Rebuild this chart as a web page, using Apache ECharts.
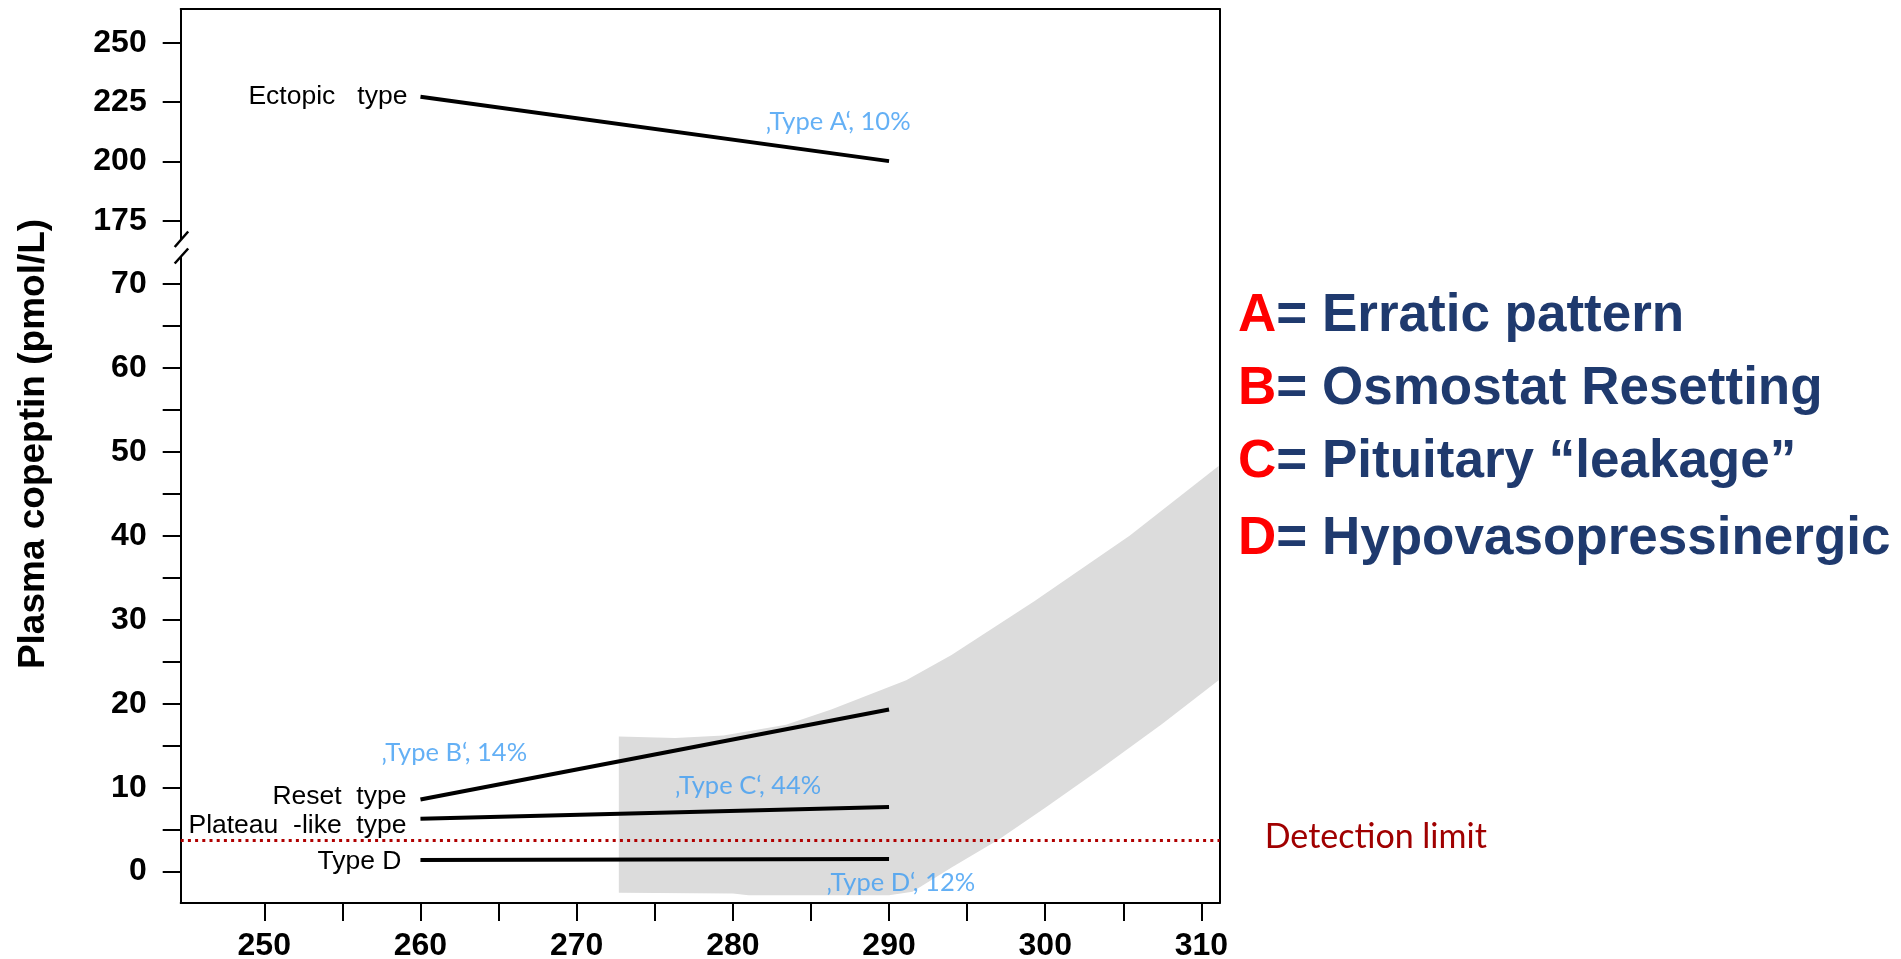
<!DOCTYPE html>
<html><head><meta charset="utf-8">
<script src="https://cdn.jsdelivr.net/npm/echarts@6/dist/echarts.min.js"></script>
<style>html,body{margin:0;padding:0;background:#fff;}#c{width:1901px;height:959px;}</style>
</head><body><div id="c"></div>
<script>
// ---- data ----
const xTickValues = [250,255,260,265,270,275,280,285,290,295,300,305,310];
const xLabelValues = [250,260,270,280,290,300,310];
const yLowTickValues = [0,5,10,15,20,25,30,35,40,45,50,55,60,65,70];
const yLowLabelValues = [0,10,20,30,40,50,60,70];
const yHighTickValues = [175,200,225,250];

const lineNames = ['Ectopic   type','Reset  type','Plateau  -like  type','Type D'];
const ectopicType = [[260,227.2],[290,200.1]];
const resetType = [[260,8.6],[290,19.3]];
const plateauType = [[260,6.3],[290,7.7]];
const typeD = [[260,1.4],[290,1.5]];
const detectionLimit = 3.8;
const detectionLabel = 'Detection limit';
const bandUpper = [[272.7,16.1],[276.3,15.9],[279.4,16.2],[283.4,17.5],[286.3,19.3],[291.1,22.8],[294,25.8],[299.3,32.2],[305.4,40],[311.1,48.3]];
const bandLower = [[272.7,-2.5],[280,-2.6],[281,-2.8],[290,-2.8],[291.5,-2.4],[294,0.5],[297,3.8],[300,7.6],[303.5,12.2],[307.5,17.6],[311.1,22.8]];
const typeLabels = ['\u201AType A\u2018, 10%','\u201AType B\u2018, 14%','\u201AType C\u2018, 44%','\u201AType D\u2018, 12%'];
const typeLabelAnchors = [[282.1,216.7],[257.5,14.2],[276.3,10.2],[286,-1.3]];
const legendLetters = ['A','B','C','D'];
const legendTexts = ['= Erratic pattern','= Osmostat Resetting','= Pituitary \u201Cleakage\u201D','= Hypovasopressinergic'];
const yTitle = 'Plasma copeptin (pmol/L)';

// ---- layout ----
const GL = 180.7, GW = 1039, TOP = 9, BRK = 248, BOT = 903;
const X_MIN = 244.65, X_MAX = 311.17;
const BLUE = '#3d9cf2';
const FONT = '"Liberation Sans", Arial, sans-serif';

const chart = echarts.init(document.getElementById('c'));

function lineSeries(data, name, xi, yi, labelOpt) {
  return {
    type: 'line', xAxisIndex: xi, yAxisIndex: yi, z: 4,
    symbol: 'circle', symbolSize: 0, showSymbol: true,
    lineStyle: {color: '#000', width: 4, cap: 'butt'},
    itemStyle: {color: '#000'},
    label: {show: false},
    data: data.map((p, i) => i === 0 ? {value: p, label: Object.assign({
      show: true, position: 'left', formatter: name, color: '#000',
      fontFamily: FONT, fontSize: 26.5
    }, labelOpt)} : {value: p}),
    silent: true
  };
}

const frameAxis = {
  axisLine: {show: true, onZero: false, lineStyle: {color: '#000', width: 2}},
  axisTick: {show: false}, axisLabel: {show: false}, splitLine: {show: false}
};
const tickStyle = {show: true, inside: false, length: 18, lineStyle: {color: '#000', width: 2}};
const labStyle = {fontFamily: FONT, fontWeight: 'bold', fontSize: 32, color: '#000'};

const option = {
  animation: false,
  backgroundColor: '#fff',
  grid: [
    {left: GL, width: GW, top: TOP, height: BRK - TOP, containLabel: false, outerBoundsMode: 'none'},
    {left: GL, width: GW, top: BRK, height: BOT - BRK, containLabel: false, outerBoundsMode: 'none'}
  ],
  xAxis: [
    Object.assign({type: 'value', gridIndex: 0, position: 'top', min: X_MIN, max: X_MAX}, frameAxis),
    {type: 'value', gridIndex: 1, position: 'bottom', min: X_MIN, max: X_MAX,
     axisLine: {show: true, onZero: false, lineStyle: {color: '#000', width: 2}},
     axisTick: Object.assign({customValues: xTickValues}, tickStyle),
     axisLabel: Object.assign({show: true, customValues: xLabelValues, margin: 27}, labStyle),
     splitLine: {show: false}}
  ],
  yAxis: [
    {type: 'value', gridIndex: 0, position: 'left', min: 163.5, max: 264.2,
     axisLine: {show: true, onZero: false, lineStyle: {color: '#000', width: 2}},
     axisTick: Object.assign({customValues: yHighTickValues}, tickStyle),
     axisLabel: Object.assign({show: true, customValues: yHighTickValues, margin: 34}, labStyle),
     splitLine: {show: false}},
    Object.assign({type: 'value', gridIndex: 0, position: 'right', min: 0, max: 1}, frameAxis),
    {type: 'value', gridIndex: 1, position: 'left', min: -3.73, max: 74.25,
     axisLine: {show: true, onZero: false, lineStyle: {color: '#000', width: 2}},
     axisTick: Object.assign({customValues: yLowTickValues}, tickStyle),
     axisLabel: Object.assign({show: true, customValues: yLowLabelValues, margin: 34}, labStyle),
     splitLine: {show: false}},
    Object.assign({type: 'value', gridIndex: 1, position: 'right', min: 0, max: 1}, frameAxis)
  ],
  series: [
    {
      type: 'custom', xAxisIndex: 1, yAxisIndex: 2, z: 1, silent: true,
      data: [[bandUpper[0][0], bandUpper[0][1]]],
      renderItem: function (params, api) {
        const pts = bandUpper.map(p => api.coord(p))
          .concat(bandLower.slice().reverse().map(p => api.coord(p)));
        return {type: 'polygon', shape: {points: pts}, style: {fill: '#dcdcdc', stroke: null}};
      }
    },
    lineSeries(ectopicType, lineNames[0], 0, 0, {distance: 13, offset: [0, 0]}),
    lineSeries(resetType, lineNames[1], 1, 2, {distance: 14, offset: [0, -3]}),
    lineSeries(plateauType, lineNames[2], 1, 2, {distance: 14, offset: [0, 7]}),
    Object.assign(lineSeries(typeD, lineNames[3], 1, 2, {distance: 19, offset: [0, 2]}), {
      markLine: {
        silent: true, symbol: 'none', z: 3,
        lineStyle: {color: '#b00000', type: [3, 4.2], width: 3},
        label: {show: true, position: 'end', formatter: detectionLabel, distance: 45,
                color: '#a00000', fontFamily: 'Lato', fontSize: 34, offset: [0, -3]},
        data: [{yAxis: detectionLimit}]
      }
    }),
    {
      type: 'scatter', xAxisIndex: 0, yAxisIndex: 0, symbolSize: 0, silent: true, z: 5,
      label: {show: true, position: 'right', distance: 0, color: BLUE, fontFamily: 'Lato', fontSize: 25.5},
      data: [{value: typeLabelAnchors[0], label: {formatter: typeLabels[0]}}]
    },
    {
      type: 'scatter', xAxisIndex: 1, yAxisIndex: 2, symbolSize: 0, silent: true, z: 5,
      label: {show: true, position: 'right', distance: 0, color: BLUE, fontFamily: 'Lato', fontSize: 25.5},
      data: typeLabelAnchors.slice(1).map((p, i) => ({value: p, label: {formatter: typeLabels[i + 1]}}))
    }
  ],
  graphic: [
    // axis break marks
    {type: 'rect', z: 100, shape: {x: GL - 4, y: BRK - 8, width: 8, height: 16}, style: {fill: '#fff'}},
    {type: 'line', z: 101, shape: {x1: GL - 6, y1: BRK - 1, x2: GL + 7.5, y2: BRK - 16.5}, style: {stroke: '#000', lineWidth: 2.5}},
    {type: 'line', z: 101, shape: {x1: GL - 6, y1: BRK + 15.5, x2: GL + 7.5, y2: BRK + 0.5}, style: {stroke: '#000', lineWidth: 2.5}},
    // y axis title
    {type: 'text', z: 100, x: 34, y: 444, rotation: Math.PI / 2,
     style: {text: yTitle, fill: '#000', font: 'bold 37px ' + FONT, align: 'center', verticalAlign: 'middle'}}
  ].concat(legendLetters.map((L, i) => ({
    type: 'text', z: 100, x: 1238, y: [316, 389, 462, 539][i],
    style: {
      text: '{r|' + L + '}{n|' + legendTexts[i] + '}',
      verticalAlign: 'middle', align: 'left',
      rich: {
        r: {fill: '#ff0000', fontFamily: FONT, fontWeight: 'bold', fontSize: 53},
        n: {fill: '#1f3a6e', fontFamily: FONT, fontWeight: 'bold', fontSize: 53}
      }
    }
  })))
};
chart.setOption(option);
</script></body></html>
